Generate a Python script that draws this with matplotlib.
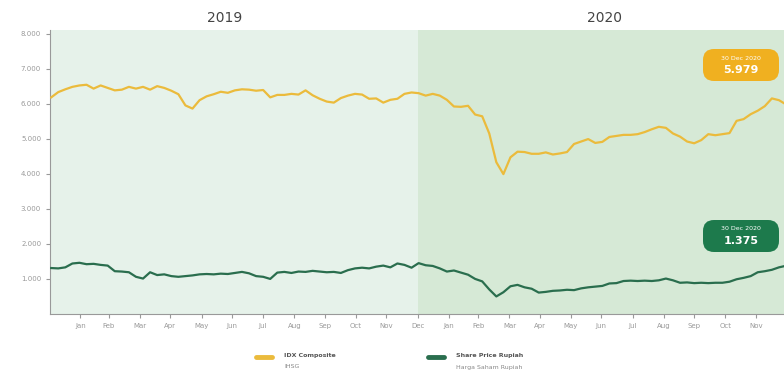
import matplotlib
matplotlib.use("Agg")
import matplotlib.pyplot as plt
import matplotlib.dates as mdates
from matplotlib.ticker import FuncFormatter
from matplotlib.patches import FancyBboxPatch
import numpy as np
import pandas as pd

# weekly closes, first Wednesday of 2019 onward, last point = 30 Dec 2020
start_date = "2019-01-02"
ihsg = [6180, 6330, 6410, 6480, 6520, 6540, 6430, 6520, 6450, 6380,
        6400, 6480, 6430, 6480, 6400, 6500, 6450, 6370, 6270, 5950,
        5860, 6100, 6210, 6270, 6340, 6310, 6380, 6410, 6400, 6370,
        6390, 6180, 6250, 6250, 6280, 6260, 6380, 6240, 6140, 6060,
        6030, 6160, 6230, 6280, 6260, 6140, 6150, 6030, 6110, 6140,
        6280, 6320, 6300,
        6230, 6280, 6230, 6110, 5920, 5910, 5940, 5690, 5640, 5150,
        4330, 3990, 4470, 4630, 4620, 4570, 4570, 4610, 4550, 4580,
        4620, 4850, 4920, 4990, 4880, 4910, 5050, 5080, 5110, 5110,
        5130, 5190, 5270, 5340, 5310, 5150, 5060, 4920, 4870, 4960,
        5130, 5100, 5130, 5160, 5510, 5560, 5700, 5800, 5930, 6150,
        6100, 5979]
share = [1310, 1300, 1330, 1440, 1460, 1420, 1430, 1400, 1380, 1220,
         1210, 1190, 1060, 1010, 1190, 1110, 1130, 1080, 1060, 1080,
         1100, 1130, 1140, 1130, 1150, 1140, 1170, 1200, 1160, 1080,
         1060, 1000, 1180, 1200, 1170, 1210, 1200, 1230, 1210, 1190,
         1200, 1170, 1250, 1300, 1320, 1300, 1350, 1380, 1330, 1440,
         1400, 1320, 1450,
         1390, 1370, 1300, 1210, 1240, 1180, 1120, 1000, 930, 700,
         500, 620, 790, 830, 760, 720, 610, 630, 660, 670,
         690, 680, 730, 760, 780, 800, 870, 880, 940, 950,
         940, 950, 940, 960, 1010, 960, 890, 900, 880, 890,
         880, 890, 890, 920, 990, 1030, 1080, 1190, 1220, 1260,
         1330, 1375]
years = ["2019", "2020"]
badge_date = "30 Dec 2020"
legend_main = ["IDX Composite", "Share Price Rupiah"]
legend_sub = ["IHSG", "Harga Saham Rupiah"]

dates = pd.date_range(start_date, periods=len(ihsg) - 1, freq="7D")
dates = dates.append(pd.DatetimeIndex(["2020-12-30"]))

gold = "#ebbb3c"
green = "#2a6e4e"

fig = plt.figure(figsize=(7.84, 3.76), dpi=100)
ax = fig.add_axes([0.064, 0.165, 0.936, 0.755])

x0 = pd.Timestamp("2019-01-01")
xmid = pd.Timestamp("2019-12-31")
x1 = pd.Timestamp("2020-12-28")
ax.axvspan(x0, xmid, color="#e6f2ea", lw=0, zorder=0)
ax.axvspan(xmid, x1, color="#d6e9d6", lw=0, zorder=0)

ax.plot(dates, ihsg, color=gold, lw=1.6, zorder=3)
ax.plot(dates, share, color=green, lw=1.6, zorder=3)

ax.set_xlim(x0, x1)
ax.set_ylim(0, 8100)
ax.set_yticks(np.arange(1000, 8001, 1000))
ax.yaxis.set_major_formatter(FuncFormatter(lambda v, p: f"{v:,.0f}".replace(",", ".")))
ax.set_xticks(pd.date_range("2019-01-31", "2020-11-30", freq="ME"))
ax.xaxis.set_major_formatter(mdates.DateFormatter("%b"))
ax.tick_params(axis="both", labelsize=5, colors="#999999", length=3, width=0.8)
for s in ["top", "right"]:
    ax.spines[s].set_visible(False)
for s in ["left", "bottom"]:
    ax.spines[s].set_color("#999999")

# overlay in pixel coordinates for headings, badges and legend
ov = fig.add_axes([0, 0, 1, 1], zorder=5)
ov.set_xlim(0, 784)
ov.set_ylim(376, 0)
ov.axis("off")

ov.text(225, 18, years[0], ha="center", va="center", fontsize=10, color="#444444")
ov.text(605, 18, years[1], ha="center", va="center", fontsize=10, color="#444444")

for val, col, yc in [(ihsg[-1], "#f0b020", 65), (share[-1], "#1d7a4c", 236)]:
    w, h = 76, 32
    ov.add_patch(FancyBboxPatch((741 - w / 2, yc - h / 2), w, h,
                                boxstyle="round,pad=0,rounding_size=11",
                                fc=col, ec="none"))
    ov.text(741, yc - 7, badge_date, ha="center", va="center", fontsize=4.5, color="white")
    ov.text(741, yc + 5, f"{val:,.0f}".replace(",", "."), ha="center", va="center",
            fontsize=8, color="white", fontweight="bold")

for (lx, col), main, sub in zip([(256, gold), (428, green)], legend_main, legend_sub):
    ov.plot([lx, lx + 16], [357, 357], color=col, lw=3.5, solid_capstyle="round")
    ov.text(lx + 28, 355, main, ha="left", va="center", fontsize=4.5,
            color="#555555", fontweight="bold")
    ov.text(lx + 28, 367, sub, ha="left", va="center", fontsize=4.5, color="#888888")

fig.savefig("out.png", dpi=100)
